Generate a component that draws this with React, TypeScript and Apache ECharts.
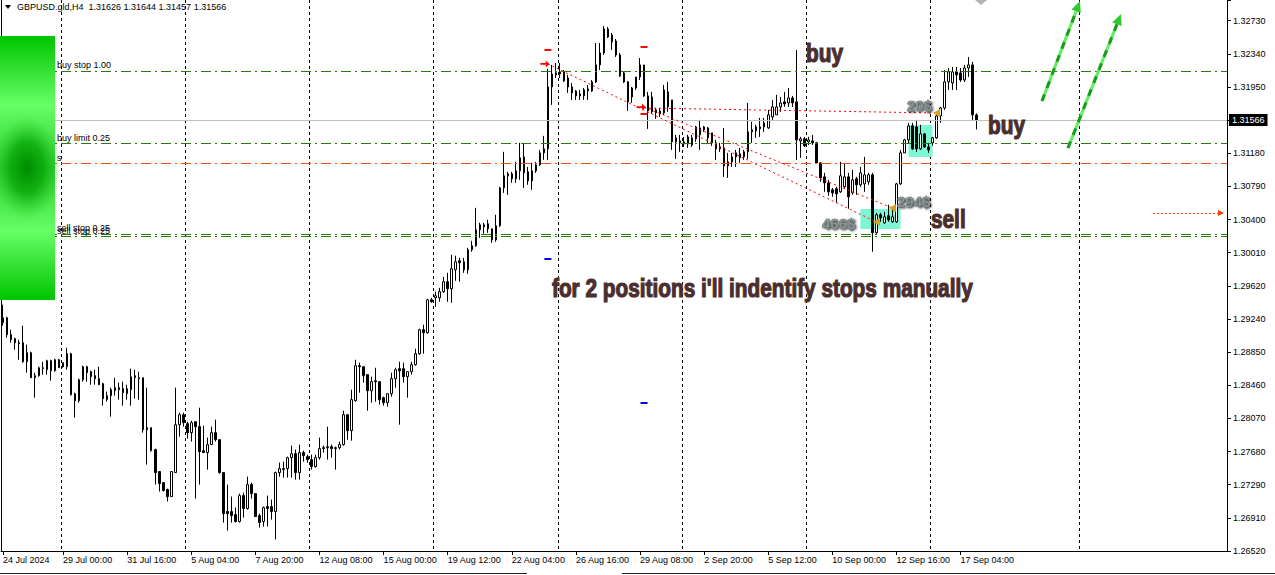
import { useEffect, useRef } from 'react';
import * as echarts from 'echarts';

const FONT = '"Liberation Sans", Arial, sans-serif';

// x axis: one slot per H4 bar, the right part is the empty chart shift
const BAR_SLOTS = 306;
const X_LABELS = [
  '24 Jul 2024', '29 Jul 00:00', '31 Jul 16:00', '5 Aug 04:00', '7 Aug 20:00', '12 Aug 08:00',
  '15 Aug 00:00', '19 Aug 12:00', '22 Aug 04:00', '26 Aug 16:00', '29 Aug 08:00', '2 Sep 20:00',
  '5 Sep 12:00', '10 Sep 00:00', '12 Sep 16:00', '17 Sep 04:00',
];
const LABEL_BARS = [0, 15, 31, 47, 63, 79, 95, 111, 127, 143, 159, 175, 191, 207, 223, 239];
const SEPARATOR_BARS = [15, 46, 77, 108, 139, 170, 201, 232, 269];

// y axis
const Y_MIN = 1.2652;
const Y_MAX = 1.32972;
const Y_STEP = 0.00388125;
const Y_LABELS = [
  '1.26520', '1.26910', '1.27290', '1.27680', '1.28070', '1.28460', '1.28850', '1.29240', '1.29620',
  '1.30010', '1.30400', '1.30790', '1.31180', '1.31570', '1.31950', '1.32340', '1.32730',
];

// GBPUSD H4 candles
const OPEN = [
  1.29193, 1.29251, 1.29053, 1.29006, 1.28959, 1.28959, 1.28736, 1.28842, 1.28549, 1.28573,
  1.28655, 1.28643, 1.28748, 1.28631, 1.2876, 1.28725, 1.28678, 1.2883, 1.28362, 1.2828,
  1.28526, 1.28678, 1.2862, 1.28573, 1.28538, 1.28479, 1.28292, 1.28339, 1.28397, 1.28433,
  1.28421, 1.28362, 1.28409, 1.28549, 1.28549, 1.28549, 1.27964, 1.27964, 1.27707, 1.2745,
  1.27321, 1.27239, 1.27157, 1.27438, 1.27999, 1.28116, 1.28011, 1.27906, 1.28034, 1.27976,
  1.27695, 1.27672, 1.27766, 1.27906, 1.27824, 1.27438, 1.26982, 1.26982, 1.26947, 1.26865,
  1.27169, 1.27017, 1.27298, 1.27192, 1.26935, 1.26865, 1.2704, 1.2704, 1.26982, 1.27438,
  1.27473, 1.27485, 1.27613, 1.2766, 1.27438, 1.27672, 1.27625, 1.2759, 1.27508, 1.27613,
  1.27719, 1.2773, 1.27742, 1.27719, 1.2773, 1.27766, 1.28116, 1.27929, 1.2828, 1.2869,
  1.28678, 1.28585, 1.28397, 1.28514, 1.28503, 1.28315, 1.28257, 1.28362, 1.28538, 1.28655,
  1.28655, 1.28561, 1.2862, 1.28702, 1.2883, 1.29111, 1.29076, 1.29462, 1.29485, 1.29485,
  1.29556, 1.29673, 1.29591, 1.29813, 1.29918, 1.29907, 1.29813, 1.30047, 1.30094, 1.30281,
  1.30316, 1.30351, 1.30293, 1.30164, 1.30328, 1.30772, 1.30913, 1.30936, 1.30878, 1.30971,
  1.31135, 1.3096, 1.30854, 1.30971, 1.31042, 1.31182, 1.31229, 1.31954, 1.32118, 1.32106,
  1.3213, 1.32059, 1.31954, 1.31907, 1.31872, 1.31849, 1.31907, 1.31907, 1.32013, 1.32212,
  1.32352, 1.32633, 1.32563, 1.32492, 1.32329, 1.32118, 1.32013, 1.31942, 1.31942, 1.32071,
  1.32212, 1.31849, 1.31837, 1.31685, 1.31638, 1.3165, 1.3172, 1.31802, 1.31358, 1.31322,
  1.31287, 1.31287, 1.31275, 1.31346, 1.31393, 1.31486, 1.31474, 1.31416, 1.31299, 1.31229,
  1.3124, 1.3103, 1.31077, 1.31135, 1.31124, 1.31135, 1.31194, 1.31428, 1.31439, 1.31463,
  1.31486, 1.31474, 1.31603, 1.31627, 1.3172, 1.31779, 1.31767, 1.31825, 1.31779, 1.31322,
  1.31346, 1.31311, 1.31322, 1.31299, 1.31065, 1.30901, 1.30831, 1.30749, 1.30761, 1.30726,
  1.30784, 1.30901, 1.30714, 1.30878, 1.30808, 1.30819, 1.30843, 1.30925, 1.30246, 1.30457,
  1.30363, 1.30445, 1.30375, 1.30375, 1.30819, 1.31182, 1.31334, 1.31498, 1.31486, 1.31229,
  1.31404, 1.31252, 1.31299, 1.31358, 1.31615, 1.31708, 1.32013, 1.32001, 1.3213, 1.32118,
  1.32036, 1.32176, 1.32212, 1.31626,
];
const HIGH = [
  1.29404, 1.29263, 1.29111, 1.29017, 1.28994, 1.29158, 1.28936, 1.28854, 1.28608, 1.28678,
  1.28736, 1.2876, 1.2876, 1.28771, 1.28771, 1.28725, 1.289, 1.28842, 1.28374, 1.28538,
  1.2869, 1.2869, 1.28631, 1.28643, 1.28678, 1.28491, 1.28386, 1.28433, 1.28549, 1.28491,
  1.28503, 1.28467, 1.28655, 1.28643, 1.2862, 1.28549, 1.28433, 1.27964, 1.27719, 1.2745,
  1.27321, 1.27251, 1.2745, 1.28433, 1.2814, 1.2814, 1.28034, 1.28046, 1.28034, 1.28198,
  1.27988, 1.27848, 1.27976, 1.28058, 1.27824, 1.27438, 1.27298, 1.27157, 1.27028, 1.27192,
  1.27204, 1.27391, 1.27321, 1.27192, 1.26958, 1.2704, 1.27169, 1.27122, 1.2745, 1.27555,
  1.27567, 1.27625, 1.27754, 1.27707, 1.27766, 1.27695, 1.27649, 1.27649, 1.27649, 1.27848,
  1.27754, 1.27976, 1.27766, 1.27742, 1.27801, 1.28163, 1.28116, 1.28409, 1.2876, 1.28725,
  1.28678, 1.28585, 1.28561, 1.28666, 1.28503, 1.28327, 1.28362, 1.28608, 1.28666, 1.28736,
  1.28725, 1.2862, 1.28736, 1.28889, 1.29123, 1.2917, 1.29474, 1.29485, 1.29556, 1.29602,
  1.29731, 1.29778, 1.29989, 1.29977, 1.29953, 1.29953, 1.3007, 1.30152, 1.30538, 1.30363,
  1.30363, 1.30398, 1.30293, 1.30457, 1.30784, 1.31194, 1.3096, 1.3096, 1.31077, 1.31299,
  1.31299, 1.31018, 1.31065, 1.31077, 1.31217, 1.31381, 1.32165, 1.32212, 1.32235, 1.32235,
  1.32153, 1.32095, 1.32001, 1.31919, 1.31919, 1.31942, 1.31977, 1.32036, 1.32469, 1.32469,
  1.32668, 1.32656, 1.32586, 1.32516, 1.32352, 1.3213, 1.32024, 1.31954, 1.32071, 1.32293,
  1.32212, 1.31896, 1.31896, 1.31708, 1.31708, 1.31977, 1.32013, 1.31802, 1.31393, 1.31393,
  1.31369, 1.31393, 1.31393, 1.31498, 1.31568, 1.31498, 1.31486, 1.31416, 1.31334, 1.31299,
  1.31474, 1.31182, 1.31182, 1.31217, 1.3124, 1.31217, 1.31767, 1.31545, 1.3151, 1.31591,
  1.31591, 1.31685, 1.31802, 1.31861, 1.31837, 1.31896, 1.31942, 1.31849, 1.32387, 1.31369,
  1.31369, 1.31369, 1.31393, 1.31311, 1.31065, 1.30948, 1.30866, 1.30772, 1.30784, 1.31077,
  1.31065, 1.30948, 1.30983, 1.30901, 1.31018, 1.31135, 1.30948, 1.30948, 1.3048, 1.3048,
  1.30492, 1.30574, 1.3055, 1.30831, 1.31217, 1.31346, 1.31533, 1.31533, 1.31568, 1.3151,
  1.31416, 1.31299, 1.31369, 1.31662, 1.3172, 1.32153, 1.32176, 1.32188, 1.32188, 1.32176,
  1.32212, 1.32305, 1.32247, 1.31644,
];
const LOW = [
  1.29158, 1.29017, 1.28959, 1.28877, 1.2876, 1.28725, 1.28608, 1.28549, 1.28315, 1.28561,
  1.28585, 1.28585, 1.28514, 1.2862, 1.28666, 1.28666, 1.28643, 1.28339, 1.28081, 1.28257,
  1.28503, 1.28503, 1.28467, 1.28467, 1.28467, 1.28222, 1.28269, 1.28093, 1.28339, 1.28292,
  1.28222, 1.28292, 1.28222, 1.28304, 1.28292, 1.27906, 1.27532, 1.27684, 1.27298, 1.27216,
  1.27216, 1.27099, 1.27157, 1.27438, 1.27859, 1.27976, 1.27836, 1.27801, 1.27134, 1.27298,
  1.27672, 1.27473, 1.27766, 1.27801, 1.27426, 1.26853, 1.26759, 1.26853, 1.26853, 1.26853,
  1.26911, 1.27005, 1.27134, 1.26923, 1.26794, 1.26806, 1.26806, 1.26888, 1.26654, 1.27391,
  1.2738, 1.2738, 1.2738, 1.27356, 1.27356, 1.27567, 1.27555, 1.27473, 1.27496, 1.2759,
  1.27672, 1.2759, 1.27613, 1.27473, 1.27707, 1.27754, 1.27824, 1.27812, 1.28269, 1.28374,
  1.28491, 1.28163, 1.28257, 1.28269, 1.28234, 1.28222, 1.2821, 1.28327, 1.28433, 1.27999,
  1.28491, 1.28315, 1.28585, 1.2869, 1.28819, 1.2883, 1.29064, 1.29427, 1.2938, 1.29439,
  1.29544, 1.29439, 1.29427, 1.29684, 1.29673, 1.29778, 1.29766, 1.30024, 1.30082, 1.30187,
  1.30234, 1.30246, 1.30129, 1.30141, 1.30316, 1.30714, 1.3069, 1.30831, 1.30831, 1.30866,
  1.30772, 1.30808, 1.30749, 1.30948, 1.3103, 1.311, 1.311, 1.31744, 1.32059, 1.32059,
  1.32013, 1.31884, 1.31802, 1.31802, 1.31802, 1.31802, 1.31802, 1.31896, 1.32001, 1.32153,
  1.32329, 1.32527, 1.32387, 1.32305, 1.32071, 1.32001, 1.31673, 1.31767, 1.31919, 1.32036,
  1.31837, 1.31463, 1.31638, 1.3158, 1.31603, 1.31627, 1.31662, 1.31217, 1.31112, 1.31194,
  1.31252, 1.3124, 1.31252, 1.31311, 1.31217, 1.31428, 1.31299, 1.31264, 1.311, 1.31194,
  1.30901, 1.30889, 1.31018, 1.31018, 1.31065, 1.311, 1.31112, 1.31299, 1.31358, 1.31369,
  1.31428, 1.31463, 1.31568, 1.31627, 1.31662, 1.3172, 1.3172, 1.3172, 1.311, 1.31124,
  1.31252, 1.31275, 1.31275, 1.31053, 1.30843, 1.30726, 1.30679, 1.30667, 1.30597, 1.30714,
  1.30772, 1.30527, 1.3069, 1.3069, 1.30784, 1.30726, 1.30808, 1.30024, 1.30234, 1.30375,
  1.30351, 1.30375, 1.30363, 1.30363, 1.30808, 1.31182, 1.31287, 1.31217, 1.31194, 1.31217,
  1.3124, 1.31182, 1.31264, 1.31346, 1.31533, 1.31685, 1.31919, 1.31919, 1.31919, 1.32013,
  1.32013, 1.32071, 1.31568, 1.31457,
];
const CLOSE = [
  1.29251, 1.29053, 1.28994, 1.28959, 1.28947, 1.28736, 1.28842, 1.28549, 1.28573, 1.28666,
  1.28666, 1.28748, 1.28631, 1.2876, 1.28666, 1.28678, 1.2883, 1.28351, 1.2828, 1.28526,
  1.28678, 1.28608, 1.28561, 1.28538, 1.28467, 1.28304, 1.28339, 1.28409, 1.28433, 1.28409,
  1.28374, 1.28421, 1.28561, 1.28573, 1.28538, 1.27941, 1.27941, 1.27695, 1.27438, 1.2731,
  1.27228, 1.27157, 1.2745, 1.27999, 1.28116, 1.28023, 1.27906, 1.28023, 1.27976, 1.27684,
  1.27672, 1.27766, 1.27906, 1.27824, 1.27438, 1.26958, 1.26958, 1.26935, 1.26865, 1.27169,
  1.27017, 1.27298, 1.27192, 1.26923, 1.26853, 1.27028, 1.27017, 1.26982, 1.27438, 1.27485,
  1.27485, 1.27613, 1.2766, 1.27438, 1.27672, 1.27637, 1.2759, 1.27508, 1.27613, 1.27719,
  1.2773, 1.27742, 1.27719, 1.2773, 1.27766, 1.28116, 1.27929, 1.28292, 1.2869, 1.28678,
  1.28573, 1.28397, 1.28503, 1.28503, 1.28292, 1.28257, 1.28362, 1.28538, 1.28643, 1.28631,
  1.28561, 1.2862, 1.28702, 1.2883, 1.29111, 1.29076, 1.29462, 1.29439, 1.29509, 1.29556,
  1.29673, 1.29591, 1.29825, 1.29907, 1.29895, 1.29813, 1.30047, 1.30094, 1.30281, 1.3034,
  1.3034, 1.30293, 1.30164, 1.30328, 1.30772, 1.30913, 1.30936, 1.30878, 1.30971, 1.31124,
  1.30948, 1.30854, 1.30971, 1.31042, 1.31182, 1.31229, 1.31954, 1.32106, 1.32095, 1.3213,
  1.32024, 1.31954, 1.31884, 1.31849, 1.31849, 1.31919, 1.31931, 1.32013, 1.32212, 1.32352,
  1.32633, 1.32539, 1.32481, 1.32329, 1.32083, 1.32013, 1.31779, 1.31837, 1.32071, 1.32212,
  1.31849, 1.31673, 1.31662, 1.3165, 1.31673, 1.31919, 1.31896, 1.31311, 1.31311, 1.31299,
  1.31311, 1.31369, 1.31358, 1.31486, 1.31474, 1.31451, 1.31358, 1.31299, 1.31229, 1.31252,
  1.3103, 1.31077, 1.31135, 1.31182, 1.3117, 1.31194, 1.31428, 1.31451, 1.31486, 1.31486,
  1.31533, 1.31627, 1.3172, 1.3172, 1.31767, 1.31755, 1.31825, 1.31767, 1.31334, 1.31346,
  1.31264, 1.31334, 1.31299, 1.31065, 1.30889, 1.30831, 1.30726, 1.30714, 1.30702, 1.30913,
  1.30901, 1.30667, 1.30866, 1.30808, 1.30948, 1.30925, 1.30925, 1.30246, 1.30457, 1.30421,
  1.30433, 1.30398, 1.30433, 1.30819, 1.31182, 1.31334, 1.31498, 1.31229, 1.31229, 1.31404,
  1.31252, 1.31217, 1.31358, 1.31615, 1.31708, 1.32013, 1.3213, 1.3213, 1.32095, 1.32036,
  1.32176, 1.32212, 1.31627, 1.31566,
];

// pending orders and price levels
const BUY_STOP = 1.32141;
const BUY_LIMIT = 1.31297;
const S_LEVEL = 1.31063;
const SELL_STOP_A = 1.30232;
const SELL_STOP_B = 1.30208;
const LAST_PRICE = 1.31566;
const ALERT_PRICE = 1.30478;

// closed trades: open bar/price -> close bar/price
const TRADE_OPEN_BARS = [136, 160, 160];
const TRADE_OPEN_PRICES = [1.32223, 1.31719, 1.31707];
const TRADE_CLOSE_BARS = [218, 222, 233];
const TRADE_CLOSE_PRICES = [1.30372, 1.30536, 1.31649];

// sl / tp dashes
const STOP_BARS = [136, 136, 160, 160, 160];
const STOP_PRICES = [1.32387, 1.29939, 1.32422, 1.31637, 1.28253];
const STOP_COLORS = ['#ff0000', '#0000e6', '#ff0000', '#ff0000', '#0000e6'];

// highlighted zones
const ZONE_BARS = [[226, 232], [214, 224]];
const ZONE_PRICES = [[1.31508, 1.31134], [1.30525, 1.30291]];

const DASH_DOT = [10, 4, 2, 4];
const GREEN = '#2a7a0c';

const orderLine = (price: number, color: string, text: string | null) => ({
  yAxis: price,
  lineStyle: { color, type: DASH_DOT, width: 1 },
  label: text
    ? {
        show: true,
        position: 'insideStartTop',
        formatter: text,
        color: '#000',
        fontSize: 9,
        fontFamily: FONT,
        distance: 1,
        padding: [0, 0, 0, 55],
      }
    : { show: false },
});

const greenArrow = (x1: number, y1: number, x2: number, y2: number) => {
  const len = Math.hypot(x2 - x1, y2 - y1);
  const ux = (x2 - x1) / len;
  const uy = (y2 - y1) / len;
  const bx = x2 - ux * 11;
  const by = y2 - uy * 11;
  const px = -uy * 5;
  const py = ux * 5;
  return [
    { type: 'line', z: 100, shape: { x1, y1, x2: bx, y2: by }, style: { stroke: '#5cf05c', lineWidth: 3 } },
    { type: 'line', z: 101, shape: { x1, y1, x2: bx, y2: by }, style: { stroke: '#1c9a1c', lineWidth: 3, lineDash: [7, 7] } },
    { type: 'polygon', z: 101, shape: { points: [[x2, y2], [bx + px, by + py], [bx - px, by - py]] }, style: { fill: '#2cc82c' } },
  ];
};

// heavy condensed note text (Arial bold squeezed horizontally, thickened by a stroke)
const noteText = (x: number, y: number, text: string) => ({
  type: 'text',
  z: 100,
  x,
  y,
  scaleX: 0.8,
  style: {
    text,
    font: `bold 26px ${FONT}`,
    fill: '#4b2e2e',
    stroke: '#4b2e2e',
    lineWidth: 1.2,
    textAlign: 'left',
    textVerticalAlign: 'middle',
    align: 'left',
    verticalAlign: 'middle',
  },
});

const moneyText = (x: number, y: number, text: string) => ({
  type: 'text',
  z: 100,
  x,
  y,
  style: {
    text,
    font: `bold 15px ${FONT}`,
    fill: '#8a9595',
    stroke: '#3c4444',
    lineWidth: 0.6,
    textAlign: 'left',
    textVerticalAlign: 'middle',
    align: 'left',
    verticalAlign: 'middle',
    textShadowColor: 'rgba(0,0,0,0.8)',
    textShadowBlur: 2,
    textShadowOffsetX: 1,
    textShadowOffsetY: 1,
  },
});

const App = () => {
  const chartDom = useRef<HTMLDivElement | null>(null);

  useEffect(() => {
    if (!chartDom.current) return;
    const chart = echarts.init(chartDom.current, null, { renderer: 'svg' });

    const categories = Array.from({ length: BAR_SLOTS }, (_, i) => String(i));
    const candles = OPEN.map((o, i) => [o, CLOSE[i], LOW[i], HIGH[i]]);

    const isLabelBar = (i: number) => LABEL_BARS.includes(i);
    const isSeparator = (i: number) => SEPARATOR_BARS.includes(i);
    const yLabel = (v: number) => {
      const i = Math.round((v - Y_MIN) / Y_STEP);
      if (Math.abs(Y_MIN + i * Y_STEP - v) > Y_STEP / 10) return '';
      return Y_LABELS[i] ?? '';
    };

    const tradeLines = TRADE_OPEN_BARS.map((b, i) => [
      { coord: [b, TRADE_OPEN_PRICES[i]], lineStyle: { color: '#ff0000', type: [2, 3], width: 1 } },
      { coord: [TRADE_CLOSE_BARS[i], TRADE_CLOSE_PRICES[i]] },
    ]);

    const option = {
      animation: false,
      backgroundColor: '#ffffff',
      grid: { left: 1, right: 48, top: 0, bottom: 24, containLabel: false },
      xAxis: {
        type: 'category',
        data: categories,
        boundaryGap: true,
        axisLine: { show: true, lineStyle: { color: '#000', width: 1 } },
        axisTick: { show: true, alignWithLabel: true, length: 4, interval: isLabelBar, lineStyle: { color: '#000' } },
        axisLabel: {
          show: true,
          interval: isLabelBar,
          formatter: (_v: string, i: number) => X_LABELS[LABEL_BARS.indexOf(i)] ?? '',
          align: 'left',
          margin: 4,
          color: '#000',
          fontSize: 9,
          fontFamily: FONT,
        },
        splitLine: { show: true, interval: isSeparator, lineStyle: { color: '#000', type: [3, 3], width: 1 } },
      },
      yAxis: {
        type: 'value',
        position: 'right',
        min: Y_MIN,
        max: Y_MAX,
        interval: Y_STEP,
        axisLine: { show: true, lineStyle: { color: '#000', width: 1 } },
        axisTick: { show: true, length: 4, lineStyle: { color: '#000' } },
        axisLabel: { formatter: yLabel, margin: 6, color: '#000', fontSize: 9, fontFamily: FONT },
        splitLine: { show: false },
      },
      series: [
        {
          type: 'candlestick',
          data: candles,
          barWidth: 2,
          itemStyle: {
            color: '#ffffff',
            color0: '#000000',
            borderColor: '#000000',
            borderColor0: '#000000',
            borderColorDoji: '#000000',
            borderWidth: 1,
          },
          markArea: {
            silent: true,
            z: 1,
            itemStyle: { color: '#7cf6d4', opacity: 1 },
            label: { show: false },
            data: ZONE_BARS.map((bars, i) => [
              { coord: [bars[0], ZONE_PRICES[i][0]] },
              { coord: [bars[1], ZONE_PRICES[i][1]] },
            ]),
          },
          markLine: {
            silent: true,
            symbol: 'none',
            precision: 6,
            label: { show: false },
            data: [
              orderLine(BUY_STOP, GREEN, 'buy stop 1.00'),
              orderLine(BUY_LIMIT, GREEN, 'buy limit 0.25'),
              orderLine(S_LEVEL, '#f04e1c', 's'),
              orderLine(SELL_STOP_A, GREEN, 'sell stop 0.25'),
              orderLine(SELL_STOP_B, GREEN, 'sell stop 0.25'),
              {
                yAxis: LAST_PRICE,
                lineStyle: { color: '#c0c0c0', type: 'solid', width: 1 },
                label: {
                  show: true,
                  position: 'end',
                  formatter: '1.31566',
                  color: '#fff',
                  backgroundColor: '#000',
                  padding: [2, 3, 1, 3],
                  fontSize: 9,
                  fontFamily: FONT,
                  distance: 2,
                },
              },
              ...tradeLines,
              [
                { coord: [287, ALERT_PRICE], symbol: 'none', lineStyle: { color: '#ff3a00', type: [2, 2], width: 1 } },
                { coord: [304, ALERT_PRICE], symbol: 'triangle', symbolSize: [6, 6] },
              ],
            ],
          },
          markPoint: {
            silent: true,
            label: { show: false },
            data: [
              ...[0, 1].map((i) => ({
                coord: [TRADE_OPEN_BARS[i], TRADE_OPEN_PRICES[i]],
                symbol: 'path://M0,3L6,3L6,0L10,4L6,8L6,5L0,5Z',
                symbolSize: [9, 7],
                symbolOffset: [-3, 0],
                itemStyle: { color: '#ff0000' },
              })),
              ...TRADE_CLOSE_BARS.map((b, i) => ({
                coord: [b, TRADE_CLOSE_PRICES[i]],
                symbol: 'triangle',
                symbolSize: [8, 7],
                symbolRotate: 90,
                itemStyle: { color: '#d9a21e' },
              })),
              ...STOP_BARS.map((b, i) => ({
                coord: [b, STOP_PRICES[i]],
                symbol: 'rect',
                symbolSize: [7, 2],
                itemStyle: { color: STOP_COLORS[i] },
              })),
            ],
          },
        },
      ],
      graphic: [
        { type: 'line', z: 50, shape: { x1: 1.5, y1: 0, x2: 1.5, y2: 551 }, style: { stroke: '#000', lineWidth: 1 } },
        {
          type: 'rect',
          z: 100,
          shape: { x: 0, y: 36, width: 55, height: 264 },
          style: {
            fill: new echarts.graphic.LinearGradient(0, 0, 0, 1, [
              { offset: 0, color: '#00c400' },
              { offset: 0.26, color: '#66ff66' },
              { offset: 0.5, color: '#2ccc2c' },
              { offset: 0.74, color: '#66ff66' },
              { offset: 1, color: '#00c400' },
            ]),
          },
        },
        {
          type: 'ellipse',
          z: 101,
          shape: { cx: 27, cy: 168, rx: 34, ry: 52 },
          style: {
            fill: new echarts.graphic.RadialGradient(0.5, 0.5, 0.5, [
              { offset: 0, color: 'rgba(0,140,0,1)' },
              { offset: 0.5, color: 'rgba(0,160,0,0.7)' },
              { offset: 1, color: 'rgba(40,200,40,0)' },
            ]),
          },
        },
        { type: 'polygon', z: 100, shape: { points: [[5, 5], [11, 5], [8, 9]] }, style: { fill: '#000' } },
        {
          type: 'text',
          z: 100,
          x: 17,
          y: 7,
          style: {
            text: 'GBPUSD.gld,H4  1.31626 1.31644 1.31457 1.31566',
            font: `9px ${FONT}`,
            fill: '#000',
            textVerticalAlign: 'middle',
            verticalAlign: 'middle',
          },
        },
        { type: 'polygon', z: 100, shape: { points: [[975, 0], [987, 0], [981, 5]] }, style: { fill: '#b4b4b4' } },
        noteText(806, 53, 'buy'),
        noteText(988, 125, 'buy'),
        noteText(931, 219, 'sell'),
        noteText(552, 288, "for 2 positions i'll indentify stops manually"),
        moneyText(907, 105, '20$'),
        moneyText(897, 201, '294$'),
        moneyText(822, 223, '466$'),
        ...greenArrow(1042, 101, 1080, 1),
        ...greenArrow(1068, 148, 1121, 14),
        { type: 'line', z: 100, shape: { x1: 0, y1: 573.5, x2: 527, y2: 573.5 }, style: { stroke: '#222', lineWidth: 1 } },
        { type: 'line', z: 100, shape: { x1: 622, y1: 573.5, x2: 1275, y2: 573.5 }, style: { stroke: '#222', lineWidth: 1 } },
      ],
    };

    chart.setOption(option as any);

    return () => {
      chart.dispose();
    };
  }, []);

  return (
    <div style={{ position: 'fixed', left: 0, top: 0, width: 1275, height: 575, background: '#fff' }}>
      <div ref={chartDom} style={{ width: '100%', height: '100%' }} />
    </div>
  );
};

export default App;
